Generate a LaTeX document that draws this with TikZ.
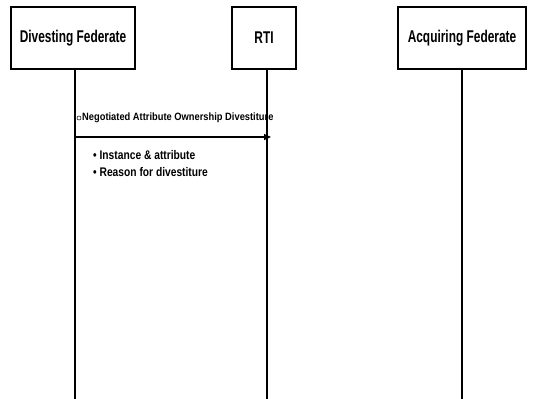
\documentclass[tikz,border=0pt]{standalone}
\usepackage{fontspec}
\newfontfamily\headfont[FakeStretch=0.70]{Liberation Sans}
\newfontfamily\labelfont[FakeStretch=0.88]{Liberation Sans}
\newfontfamily\itemfont[FakeStretch=0.82]{Liberation Sans}
\usetikzlibrary{arrows.meta}
\begin{document}
\begin{tikzpicture}[x=1pt,y=-1pt,
  actor/.style={draw,line width=1.3pt,minimum height=62pt,inner sep=0pt,
    font=\headfont\bfseries\fontsize{17}{19}\selectfont},
  lifeline/.style={line width=1.8pt},
  msg/.style={line width=1.3pt,-{Triangle[length=7pt,width=6pt]}},
  msglabel/.style={font=\labelfont\bfseries\fontsize{10.6}{12}\selectfont,inner sep=0pt,anchor=west},
  bullet/.style={font=\itemfont\bfseries\fontsize{12.5}{14}\selectfont,inner sep=0pt,anchor=west}]
  \useasboundingbox (0,0) rectangle (533,399);

  % participants
  \node[actor,minimum width=124pt] (div) at (73,38) {Divesting Federate};
  \node[actor,minimum width=64pt]  (rti) at (264,38) {RTI};
  \node[actor,minimum width=128pt] (acq) at (462,38) {Acquiring Federate};

  % lifelines
  \coordinate (divend) at (75,399);
  \coordinate (rtiend) at (267,399);
  \coordinate (acqend) at (462,399);
  \draw[lifeline] (div.south -| divend) -- (divend);
  \draw[lifeline] (rti.south -| rtiend) -- (rtiend);
  \draw[lifeline] (acq.south -| acqend) -- (acqend);

  % message from divesting federate to the RTI
  \node[draw,circle,inner sep=0pt,minimum size=4pt,line width=0.5pt] (mark) at (79,118) {};
  \node[msglabel] (lbl) at (82,118) {Negotiated Attribute Ownership Divestiture};
  \coordinate (msgstart) at (75,137);
  \coordinate (msgend) at (271,137);
  \draw[msg] (msgstart) -- (msgend);

  % message parameters
  \node[bullet] (p1) at (93,155) {\textbullet\ Instance \& attribute};
  \node[bullet] (p2) at (93,172) {\textbullet\ Reason for divestiture};
\end{tikzpicture}
\end{document}
